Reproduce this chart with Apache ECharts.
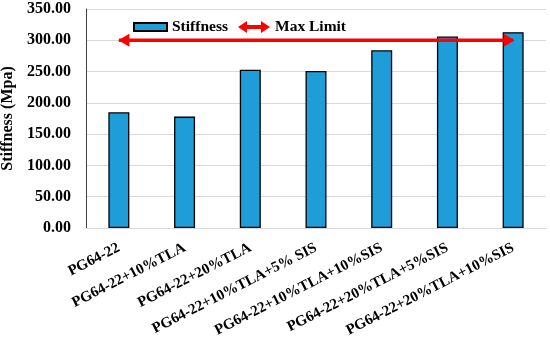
<!DOCTYPE html>
<html>
<head>
<meta charset="utf-8">
<script src="https://cdn.jsdelivr.net/npm/echarts@6/dist/echarts.min.js"></script>
<style>html,body{margin:0;padding:0;background:#fff}#c{width:550px;height:339px}</style>
</head>
<body>
<div id="c"></div>
<script>
var categories = ['PG64-22','PG64-22+10%TLA','PG64-22+20%TLA','PG64-22+10%TLA+5% SIS','PG64-22+10%TLA+10%SIS','PG64-22+20%TLA+5%SIS','PG64-22+20%TLA+10%SIS'];
var stiffness = [185, 178, 253, 251, 284, 306, 313];
var maxLimit = [300, 300, 300, 300, 300, 300, 300];
var yTicks = [0, 50, 100, 150, 200, 250, 300, 350];

var FONT = '"Liberation Serif", "Times New Roman", serif';
var RED = '#FF0000';
var leftArrow = 'path://M0,6 L10,0 L10,12 Z';
var rightArrow = 'path://M10,6 L0,0 L0,12 Z';
var dblArrow = 'path://M0,6 L9,0 L9,4 L23,4 L23,0 L32,6 L23,12 L23,8 L9,8 L9,12 Z';

var limitData = maxLimit.map(function (v, i) {
  if (i === 0) return {value: v, symbol: leftArrow, symbolSize: [11, 13], symbolOffset: [5, 0]};
  if (i === maxLimit.length - 1) return {value: v, symbol: rightArrow, symbolSize: [11, 13], symbolOffset: [-4, 0]};
  return {value: v, symbol: 'none'};
});

var legendText = {fontFamily: FONT, fontWeight: 'bold', fontSize: 15.5, color: '#000', lineHeight: 16};

var chart = echarts.init(document.getElementById('c'), null, {renderer: 'canvas'});
chart.setOption({
  animation: false,
  textStyle: {fontFamily: FONT},
  grid: {left: 86, right: 4, top: 9, bottom: 111, containLabel: false, outerBoundsMode: 'none'},
  legend: [
    {
      left: 133, top: 19, padding: 0, itemWidth: 33, itemHeight: 8,
      textStyle: legendText,
      data: [{name: 'Stiffness', icon: 'rect'}]
    },
    {
      left: 238, top: 19, padding: 0, itemWidth: 32, itemHeight: 12,
      textStyle: legendText,
      data: [{name: 'Max Limit', icon: dblArrow, itemStyle: {color: RED, borderWidth: 0}}]
    }
  ],
  xAxis: {
    type: 'category', data: categories,
    axisLine: {show: true, lineStyle: {color: '#D9D9D9', width: 1}},
    axisTick: {show: false},
    axisLabel: {rotate: 27, margin: 19, interval: 0, fontFamily: FONT, fontWeight: 'bold', fontSize: 15, color: '#000'}
  },
  yAxis: {
    type: 'value', min: yTicks[0], max: yTicks[yTicks.length - 1], interval: 50,
    name: 'Stiffness (Mpa)', nameLocation: 'middle', nameGap: 62,
    nameTextStyle: {fontFamily: FONT, fontWeight: 'bold', fontSize: 16, color: '#000'},
    axisLine: {show: true, lineStyle: {color: '#404040', width: 1}},
    axisTick: {show: false},
    splitLine: {lineStyle: {color: '#D9D9D9', width: 1}},
    axisLabel: {margin: 15, fontFamily: FONT, fontWeight: 'bold', fontSize: 16, color: '#000',
      formatter: function (v) { return v.toFixed(2); }}
  },
  series: [
    {
      name: 'Stiffness', type: 'bar', data: stiffness, barWidth: 21,
      itemStyle: {color: '#1F9DD9', borderColor: '#000', borderWidth: 1.3}
    },
    {
      name: 'Max Limit', type: 'line', data: limitData,
      lineStyle: {color: RED, width: 3.5},
      itemStyle: {color: RED},
      z: 5
    }
  ]
});
</script>
</body>
</html>
